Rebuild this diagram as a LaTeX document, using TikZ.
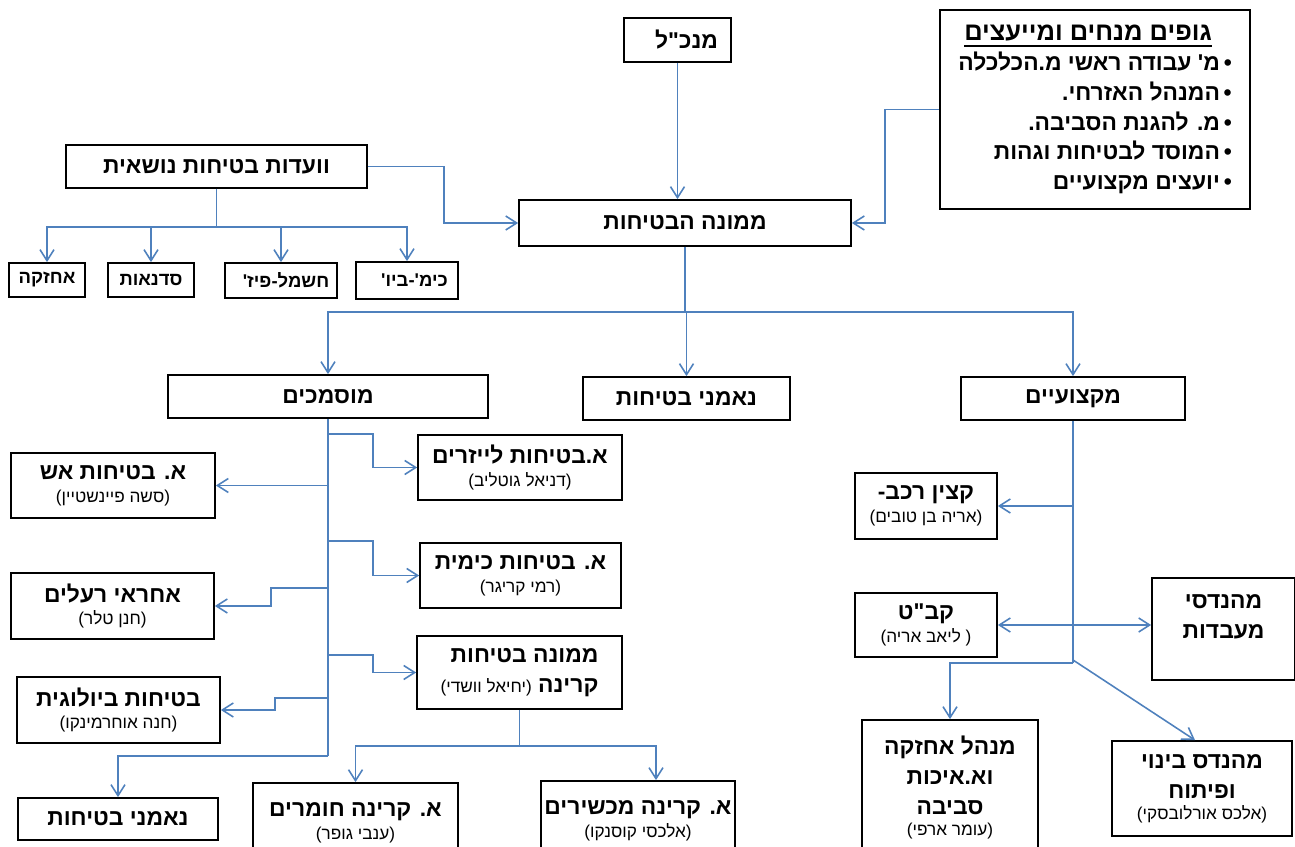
\documentclass[tikz,border=0pt]{standalone}
\usepackage{fontspec}
\newfontfamily\hebfont{Liberation Sans}[Script=Hebrew]
\usepackage{tikz}
\usetikzlibrary{arrows.meta, positioning, calc}
\usepackage{xcolor}
\definecolor{chart-blue}{RGB}{79,129,189}
\TeXXeTstate=1
\newcommand{\rtltext}[1]{\beginR #1\endR}
\newcommand{\titlefont}{\hebfont\fontsize{13}{17}\selectfont\bfseries}
\newcommand{\namefont}{\hebfont\fontsize{9.8}{12}\selectfont\mdseries}
\newcommand{\ulinetext}[1]{\setbox0\hbox{#1}\rlap{\rule[-3.5pt]{\wd0}{1pt}}\box0}

\begin{document}
\begin{tikzpicture}[x=0.02cm, y=-0.02cm,
    unit/.style={draw, line width=1pt, align=center, inner sep=2pt, font=\titlefont},
    minor/.style={unit, font=\hebfont\fontsize{10.5}{12}\selectfont\bfseries},
    conn/.style={-{Straight Barb[length=2.2mm, width=2.8mm]}, line width=0.9pt, chart-blue},
    trunk/.style={line width=0.9pt, chart-blue},
    twoway/.style={{Straight Barb[length=2.2mm, width=2.8mm]}-{Straight Barb[length=2.2mm, width=2.8mm]}, line width=0.9pt, chart-blue}]
\clip (0,0) rectangle (1295,847);

% top
\node[unit, align=right, text width=1.62cm, minimum width=2.14cm, minimum height=0.88cm] (ceo) at (677.5,40) {\rtltext{מנכ"ל}};
\node[unit, align=right, minimum width=6.2cm, minimum height=3.98cm] (advisory) at (1095,109.5)
  {{\fontsize{14.5}{17}\selectfont\ulinetext{\rtltext{גופים מנחים ומייעצים}}}\hspace*{0.4cm}\\
   \rtltext{•\,מ' עבודה ראשי מ.הכלכלה}\\
   \rtltext{•\,המנהל האזרחי.}\\
   \rtltext{•\,מ. להגנת הסביבה.}\\
   \rtltext{•\,המוסד לבטיחות וגהות}\\
   \rtltext{•\,יועצים מקצועיים}};
\node[unit, minimum width=6.02cm, minimum height=0.86cm] (committees) at (216.5,166.5) {\rtltext{וועדות בטיחות נושאית}};
\node[unit, minimum width=6.64cm, minimum height=0.92cm] (officer) at (685,223) {\rtltext{ממונה הבטיחות}};

% committees
\node[minor, minimum width=1.52cm, minimum height=0.68cm] (maint) at (47,280) {\rtltext{אחזקה}};
\node[minor, minimum width=1.72cm, minimum height=0.68cm] (workshops) at (151,280) {\rtltext{סדנאות}};
\node[minor, minimum width=2.24cm, minimum height=0.7cm] (elec) at (281,280.5) {\hspace*{0.2cm}\rtltext{חשמל-פיז'}};
\node[minor, minimum width=2.04cm, minimum height=0.74cm] (chembio) at (407,280.5) {\hspace*{0.3cm}\rtltext{כימ'-ביו'}};

% second level
\node[unit, minimum width=6.4cm, minimum height=0.86cm] (certified) at (328,396.5) {\rtltext{מוסמכים}};
\node[unit, minimum width=4.14cm, minimum height=0.86cm] (trustees) at (686.5,398.5) {\rtltext{נאמני בטיחות}};
\node[unit, minimum width=4.48cm, minimum height=0.86cm] (professionals) at (1073,398.5) {\rtltext{מקצועיים}};

% certified
\node[unit, minimum width=4.08cm, minimum height=1.3cm] (fire) at (113,485.5) {\rtltext{א. בטיחות אש}\\[-4pt] {\namefont\rtltext{(סשה פיינשטיין)}}};
\node[unit, minimum width=4.06cm, minimum height=1.32cm] (toxins) at (112.5,606) {\rtltext{אחראי רעלים}\\[-4pt] {\namefont\rtltext{(חנן טלר)}}};
\node[unit, minimum width=4.06cm, minimum height=1.32cm] (bio) at (118.5,710) {\rtltext{בטיחות ביולוגית}\\[-4pt] {\namefont\rtltext{(חנה אוחרמינקו)}}};
\node[unit, minimum width=4.08cm, minimum height=1.3cm] (laser) at (520,467.5) {\rtltext{א.בטיחות לייזרים}\\[-4pt] {\namefont\rtltext{(דניאל גוטליב)}}};
\node[unit, minimum width=4.02cm, minimum height=1.3cm] (chem) at (520.5,575.5) {\rtltext{א. בטיחות כימית}\\[-4pt] {\namefont\rtltext{(רמי קריגר)}}};
\node[unit, align=right, minimum width=4.1cm, minimum height=1.46cm] (radiation) at (519.5,672.5) {\rtltext{ממונה בטיחות}\\ \rtltext{קרינה {\namefont (יחיאל וושדי)}}};
\node[unit, minimum width=4.0cm, minimum height=0.84cm] (trustees2) at (118,819) {\rtltext{נאמני בטיחות}};
\node[unit, minimum width=4.1cm, minimum height=1.6cm] (radmat) at (355.5,823) {\rtltext{א. קרינה חומרים}\\[-4pt] {\namefont\rtltext{(ענבי גופר)}}};
\node[unit, minimum width=3.76cm, minimum height=1.6cm] (raddev) at (638,821) {\rtltext{א. קרינה מכשירים}\\[-4pt] {\namefont\rtltext{(אלכסי קוסנקו)}}};

% professionals
\node[unit, minimum width=2.84cm, minimum height=1.32cm] (vehicle) at (926,506) {\rtltext{קצין רכב-}\\[-4pt] {\namefont\rtltext{(אריה בן טובים)}}};
\node[unit, minimum width=2.84cm, minimum height=1.28cm] (security) at (926,625) {\rtltext{קב"ט}\\[-4pt] {\namefont\rtltext{( ליאב אריה)}}};
\node[unit, minimum width=2.86cm, minimum height=2.04cm, text depth=0.5cm] (labeng) at (1223.5,629) {\rtltext{מהנדסי}\\ \rtltext{מעבדות}};
\node[unit, minimum width=3.52cm, minimum height=2.7cm] (maintenv) at (950,787.5) {\rtltext{מנהל אחזקה}\\ \rtltext{וא.איכות}\\ \rtltext{סביבה}\\[-5pt] {\namefont\rtltext{(עומר ארפי)}}};
\node[unit, minimum width=3.6cm, minimum height=1.9cm] (building) at (1202,788.5) {\rtltext{מהנדס בינוי}\\ \rtltext{ופיתוח}\\[-5pt] {\namefont\rtltext{(אלכס אורלובסקי)}}};

% links
\draw[conn] (ceo.south) -- (ceo.south |- officer.north);
\draw[conn] (advisory.west) -- ++(-54,0) |- (officer.east);
\draw[conn] (committees.east) -- ++(76,0) |- (officer.west);
\foreach \n in {maint, workshops, elec, chembio}
  \draw[conn] (committees.south) -- ++(0,38) -| (\n.north);
\foreach \n in {certified, trustees, professionals}
  \draw[conn] (officer.south) -- ++(0,65) -| (\n.north);

\draw[trunk] (certified.south) -- ++(0,337) coordinate (cbot);
\draw[conn] (cbot) -| (trustees2.north);
\draw[conn] (certified.south |- 0,434) -- ++(45,0) |- (laser.west);
\draw[conn] (certified.south |- fire.east) -- (fire.east);
\draw[conn] (certified.south |- 0,541) -- ++(45,0) |- (chem.west);
\draw[conn] (certified.south |- 0,588) -- ++(-57,0) |- (toxins.east);
\draw[conn] (certified.south |- 0,655) -- ++(45,0) |- (radiation.west);
\draw[conn] (certified.south |- 0,698) -- ++(-53,0) |- (bio.east);

\draw[trunk] (radiation.south) -- ++(0,36) coordinate (rbar);
\draw[conn] (rbar) -| (radmat.north);
\draw[conn] (rbar) -| ([xshift=0.36cm]raddev.north);

\draw[trunk] (professionals.south) -- ++(0,242) coordinate (pbot);
\draw[conn] (professionals.south |- vehicle.east) -- (vehicle.east);
\draw[twoway] (security.east) -- (security.east -| labeng.west);
\draw[conn] (pbot) -| (maintenv.north);
\draw[conn] (professionals.south |- 0,660) -- ([xshift=-0.14cm]building.north);
\end{tikzpicture}
\end{document}
